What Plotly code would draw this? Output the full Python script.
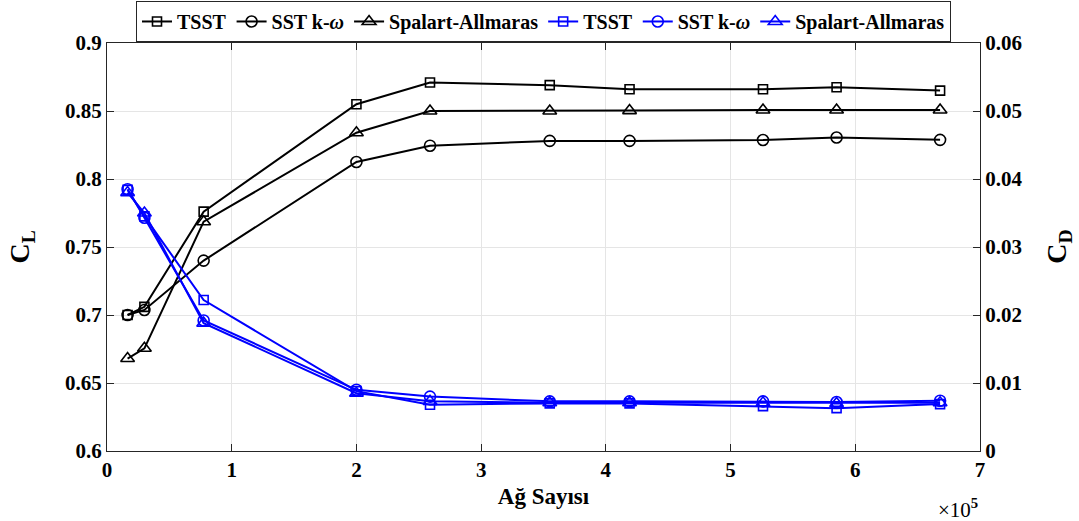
import plotly.graph_objects as go

# Mesh size (x 10^5)
mesh = [0.165, 0.30, 0.775, 2.0, 2.59, 3.55, 4.19, 5.26, 5.85, 6.68]

# Lift coefficient
cl_tsst = [0.700, 0.706, 0.776, 0.855, 0.871, 0.869, 0.866, 0.866, 0.8675, 0.865]
cl_sst = [0.700, 0.7037, 0.740, 0.8125, 0.8245, 0.828, 0.828, 0.8287, 0.8305, 0.8288]
cl_sa = [0.668, 0.6755, 0.7686, 0.834, 0.8500, 0.8500, 0.8503, 0.8507, 0.8507, 0.8507]

# Drag coefficient
cd_tsst = [0.0384, 0.0345, 0.0222, 0.0088, 0.0068, 0.0070, 0.0070, 0.0066, 0.0063, 0.0069]
cd_sst = [0.0385, 0.0343, 0.0192, 0.0090, 0.0080, 0.0073, 0.0073, 0.0073, 0.0072, 0.0074]
cd_sa = [0.0380, 0.0350, 0.0188, 0.0085, 0.0073, 0.0071, 0.0071, 0.0071, 0.0070, 0.0071]

names = ["TSST", "SST k-<i>ω</i>", "Spalart-Allmaras"]
symbols = ["square-open", "circle-open", "triangle-up-open"]
sizes = [9, 11, 12]

FONT = "Liberation Serif"
fig = go.Figure()

for ys, nm, sym, sz in zip([cl_tsst, cl_sst, cl_sa], names, symbols, sizes):
    fig.add_trace(go.Scatter(
        x=mesh, y=ys, name=nm, mode="lines+markers",
        line=dict(color="black", width=2),
        marker=dict(symbol=sym, size=sz, color="black", line=dict(width=1.6, color="black")),
        yaxis="y"))

for ys, nm, sym, sz in zip([cd_tsst, cd_sst, cd_sa], names, symbols, sizes):
    fig.add_trace(go.Scatter(
        x=mesh, y=ys, name=nm, mode="lines+markers",
        line=dict(color="#0000ff", width=2),
        marker=dict(symbol=sym, size=sz, color="#0000ff", line=dict(width=1.6, color="#0000ff")),
        yaxis="y2"))

axis_col = "#262626"
tickfont = dict(family=FONT, size=21, color="black", weight="bold")

fig.update_layout(
    width=1079, height=521,
    margin=dict(l=107, r=99, t=43, b=70, autoexpand=False),
    paper_bgcolor="white", plot_bgcolor="white",
    font=dict(family=FONT, color="black"),
    showlegend=True,
    legend=dict(
        orientation="h", x=0.5, xanchor="center", y=1.103, yanchor="top",
        bordercolor="#262626", borderwidth=1, bgcolor="white",
        font=dict(family=FONT, size=20, color="black", weight="bold"),
        itemwidth=30, tracegroupgap=0,
    ),
    xaxis=dict(
        range=[0, 7], dtick=1, tick0=0,
        showgrid=True, gridcolor="#e5e5e5", gridwidth=1,
        zeroline=False,
        showline=True, linecolor=axis_col, linewidth=1, mirror="ticks",
        ticks="inside", ticklen=7, tickcolor=axis_col,
        tickfont=tickfont,
        title=dict(text="Ağ Sayısı", font=dict(family=FONT, size=23, color="black", weight="bold"), standoff=6),
    ),
    yaxis=dict(
        range=[0.6, 0.9], dtick=0.05, tick0=0.6,
        showgrid=True, gridcolor="#e5e5e5", gridwidth=1,
        zeroline=False,
        showline=True, linecolor=axis_col, linewidth=1,
        ticks="inside", ticklen=7, tickcolor=axis_col,
        tickfont=tickfont,
    ),
    yaxis2=dict(
        range=[0, 0.06], dtick=0.01, tick0=0,
        overlaying="y", side="right",
        showgrid=False, zeroline=False,
        showline=True, linecolor=axis_col, linewidth=1,
        ticks="inside", ticklen=7, tickcolor=axis_col,
        tickfont=tickfont,
    ),
)

fig.add_annotation(
    text="<b>C<sub>L</sub></b>", xref="paper", yref="paper",
    x=-0.098, y=0.5, xanchor="center", yanchor="middle", textangle=-90,
    showarrow=False, font=dict(family=FONT, size=28, color="black"))
fig.add_annotation(
    text="<b>C<sub>D</sub></b>", xref="paper", yref="paper",
    x=1.089, y=0.5, xanchor="center", yanchor="middle", textangle=-90,
    showarrow=False, font=dict(family=FONT, size=28, color="black"))
fig.add_annotation(
    text="×10<sup><b>5</b></sup>", xref="paper", yref="paper",
    x=1.0, y=-0.14, xanchor="right", yanchor="middle",
    showarrow=False, font=dict(family=FONT, size=21, color="black"))

fig.write_html("out.html")
